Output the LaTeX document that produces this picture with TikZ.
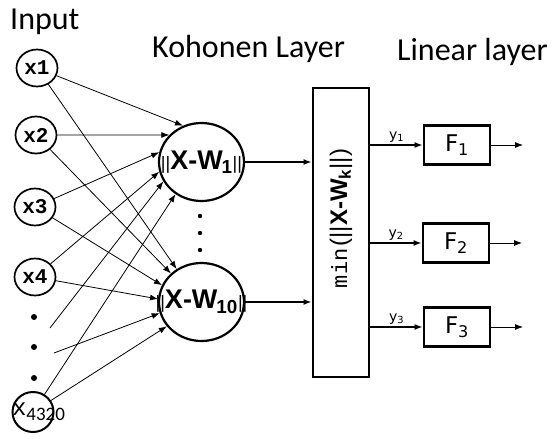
\documentclass[tikz,border=0pt]{standalone}
\usepackage{fontspec}
\usepackage{graphicx}
\setmainfont{Carlito}
\newfontfamily\arialfont{Liberation Sans}
\newfontfamily\courfont{Liberation Mono}
\newfontfamily\verdfont{DejaVu Sans}
\usetikzlibrary{arrows.meta,shapes.geometric}

\tikzset{
  ttl/.style={font=\fontsize{32}{32}\selectfont, anchor=base west, inner sep=0pt},
  inp/.style={ellipse, draw, line width=1.7pt, minimum width=41pt, minimum height=37pt,
    inner sep=0pt, font=\courfont\bfseries\fontsize{21}{21}\selectfont},
  koh/.style={ellipse, draw, line width=2.2pt, minimum width=85pt, minimum height=78pt,
    inner sep=0pt, font=\arialfont\bfseries\fontsize{27}{27}\selectfont},
  fbx/.style={rectangle, draw, line width=2.6pt, minimum width=66pt, minimum height=39pt,
    inner sep=0pt, font=\verdfont\fontsize{23}{23}\selectfont},
  ylab/.style={font=\verdfont\fontsize{14}{14}\selectfont, above, inner sep=2pt},
}

\begin{document}
\begin{tikzpicture}[x=1pt, y=-1pt, >={Latex[length=8pt,width=6pt]}]
    \useasboundingbox (0,0) rectangle (560,439);

    %% titles
    \node[ttl] (tin)  at (10,30)  {Input};
    \node[ttl] (tkoh) at (152,57) {Kohonen Layer};
    \node[ttl] (tlin) at (397,60) {Linear layer};

    %% input neurons
    \node[inp] (x1) at (37,68)  {x1};
    \node[inp] (x2) at (36,135) {x2};
    \node[inp] (x3) at (35,207) {x3};
    \node[inp] (x4) at (35,277) {x4};
    \node[inp, draw=black, line width=2pt, minimum width=41pt, minimum height=40pt] (xn) at (33,412)
      {\makebox[0pt]{\hspace{11pt}{\mdseries\fontsize{24}{24}\selectfont x}%
        \raisebox{-5pt}{\mdseries\rmfamily\fontsize{19}{19}\selectfont 4320}}};
    \foreach \y in {317,347,378}
      \fill (34,\y) circle (3pt);
    \coordinate (d1) at (50,328);
    \coordinate (d2) at (54,353);

    %% kohonen neurons
    \node[koh] (k1)  at (201.5,162)
      {\makebox[0pt]{{\mdseries\fontsize{18}{18}\selectfont||}X-W\kern-1pt\textsubscript{1}{\mdseries\fontsize{18}{18}\selectfont||}}};
    \node[koh] (k10) at (201.5,302)
      {\makebox[0pt]{{\mdseries\fontsize{18}{18}\selectfont||}X-W\kern-1pt\textsubscript{10}{\mdseries\fontsize{18}{18}\selectfont||}}};
    \foreach \y in {216,233,250}
      \fill (200,\y) circle (2.2pt);

    %% input -> kohonen
    \draw[->, line width=0.8pt] (x1) -- (k1.117);
    \draw[->, line width=0.8pt] (x2) -- (k1.140);
    \draw[->, line width=0.8pt] (x3) -- (k1.167);
    \draw[->, line width=0.8pt] (x4) -- (k1.193);
    \draw[->, line width=0.8pt] (d1) -- (k1.207);
    \draw[->, line width=0.8pt] (xn) -- (k1.231);
    \draw[->, line width=0.8pt] (x1) -- (k10.127);
    \draw[->, line width=0.8pt] (x2) -- (k10.137);
    \draw[->, line width=0.8pt] (x3) -- (k10.157);
    \draw[->, line width=0.8pt] (x4) -- (k10.176);
    \draw[->, line width=0.8pt] (d2) -- (k10.195);
    \draw[->, line width=0.8pt] (xn) -- (k10.215);

    %% competition box
    \node[draw, line width=2.8pt, minimum width=56pt, minimum height=289pt, inner sep=0pt]
      (mn) at (341,232.5)
      {\rotatebox{90}{\hspace{28pt}{\courfont\fontsize{22}{22}\selectfont min}
        {\arialfont\fontsize{24}{24}\selectfont(||\textbf{X-W\textsubscript{k}}||)}}};
    \draw[->, line width=2.2pt] (k1)  -- (k1 -| mn.west);
    \draw[->, line width=2.2pt] (k10) -- (k10 -| mn.west);

    %% linear layer
    \node[fbx] (f1) at (457,145) {F\textsubscript{1}};
    \node[fbx] (f2) at (456,243) {F\textsubscript{2}};
    \node[fbx] (f3) at (457,327) {F\textsubscript{3}};
    \foreach \i in {1,2,3} {
      \draw[->, line width=1.8pt] (mn.east |- f\i) -- (f\i)
        node[midway, ylab] {y\textsubscript{\i}};
      \draw[->, line width=0.8pt] (f\i) -- ++(66,0);
    }
\end{tikzpicture}
\end{document}
